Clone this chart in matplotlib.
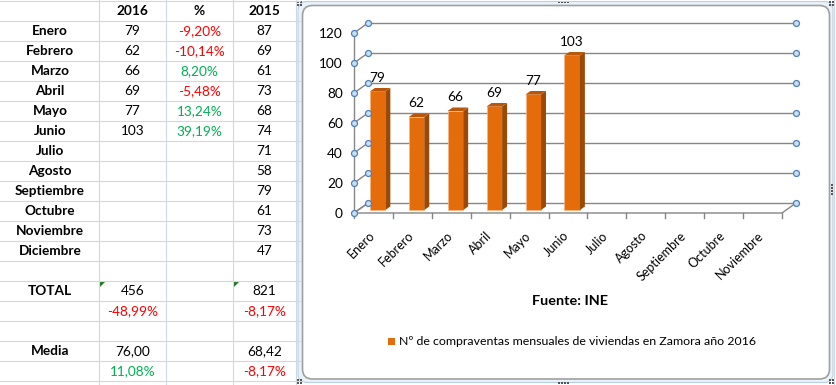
import matplotlib.pyplot as plt
from matplotlib.patches import FancyBboxPatch, Polygon, Rectangle

plt.rcParams['font.family'] = ['Lato', 'DejaVu Sans']

# data read from the sheet
months = ["Enero", "Febrero", "Marzo", "Abril", "Mayo", "Junio", "Julio",
          "Agosto", "Septiembre", "Octubre", "Noviembre", "Diciembre"]
sales_2016 = [79, 62, 66, 69, 77, 103]
pct_change = ["-9,20%", "-10,14%", "8,20%", "-5,48%", "13,24%", "39,19%"]
sales_2015 = [87, 69, 61, 73, 68, 74, 71, 58, 79, 61, 73, 47]
total_row = ["456", "821"]
total_pct = ["-48,99%", "-8,17%"]
mean_row = ["76,00", "68,42"]
mean_pct = ["11,08%", "-8,17%"]
chart_months = months[:11]
y_ticks = [0, 20, 40, 60, 80, 100, 120]
source = "Fuente: INE"
legend_label = "Nº de compraventas mensuales de viviendas en Zamora año 2016"

W, H = 836, 385
RED = '#FF0000'
GREEN = '#00B050'
GRID = '#D0D7E5'
ORANGE = '#E46C0A'


def pct_color(s):
    return RED if s.startswith('-') else GREEN


fig = plt.figure(figsize=(W / 100, H / 100), dpi=100)

# sheet layer, 1 unit = 1 pixel
bg = fig.add_axes([0, 0, 1, 1])
bg.set_xlim(0, W)
bg.set_ylim(H, 0)
bg.axis('off')

col_lines = [99, 166, 233, 296]
col_center = [50, 132.5, 199.5, 264.5]
for k in range(20):
    bg.plot([0, 300], [1 + 20 * k] * 2, color=GRID, lw=0.8)
for x in col_lines:
    bg.plot([x, x], [0, H], color=GRID, lw=0.8)
bg.plot([834, 834], [0, H], color=GRID, lw=0.8)


def row_y(r):
    return 11 + 20 * r


fs = 9.8
for c, s in zip(col_center[1:], ["2016", "%", "2015"]):
    bg.text(c, row_y(0), s, ha='center', va='center', fontsize=fs, fontweight='bold')
for i, m in enumerate(months):
    y = row_y(i + 1)
    bg.text(col_center[0], y, m, ha='center', va='center', fontsize=fs, fontweight='bold')
    bg.text(col_center[3], y, str(sales_2015[i]), ha='center', va='center', fontsize=fs)
    if i < len(sales_2016):
        bg.text(col_center[1], y, str(sales_2016[i]), ha='center', va='center', fontsize=fs)
        bg.text(col_center[2], y, pct_change[i], ha='center', va='center', fontsize=fs,
                color=pct_color(pct_change[i]))

bg.text(col_center[0], row_y(14), "TOTAL", ha='center', va='center', fontsize=fs, fontweight='bold')
bg.text(col_center[0], row_y(17), "Media", ha='center', va='center', fontsize=fs, fontweight='bold')
for c, tv, tp, mv, mp in zip([col_center[1], col_center[3]], total_row, total_pct, mean_row, mean_pct):
    bg.text(c, row_y(14), tv, ha='center', va='center', fontsize=fs)
    bg.text(c, row_y(15), tp, ha='center', va='center', fontsize=fs, color=pct_color(tp))
    bg.text(c, row_y(17), mv, ha='center', va='center', fontsize=fs)
    bg.text(c, row_y(18), mp, ha='center', va='center', fontsize=fs, color=pct_color(mp))

# little green error marks
for x in [100, 234]:
    bg.add_patch(Polygon([[x, 282], [x + 5, 282], [x, 287]], closed=True,
                         color='#1E7B1E', lw=0))

# chart frame
bg.add_patch(FancyBboxPatch((298, 1.5), 535, 381, boxstyle='round,pad=0,rounding_size=9',
                            fc='#EAF2FA', ec='#B9CFE4', lw=0.8))
bg.add_patch(FancyBboxPatch((302.5, 5.5), 527, 373.5, boxstyle='round,pad=0,rounding_size=10',
                            fc='white', ec='#A0A0A0', lw=1.2))
# resize handles
for (x, y) in [(299, 3), (831, 3), (299, 381), (831, 381)]:
    for dx in (0, 3):
        for dy in (0, 3):
            bg.add_patch(Rectangle((x - 2 + dx, y - 2 + dy), 1.5, 1.5, color='#555555', lw=0))
for k in range(4):
    bg.add_patch(Rectangle((558 + 3 * k, 1.5), 1.5, 1.5, color='#555555', lw=0))
    bg.add_patch(Rectangle((558 + 3 * k, 382), 1.5, 1.5, color='#555555', lw=0))
    bg.add_patch(Rectangle((831, 184 + 3 * k), 1.5, 1.5, color='#555555', lw=0))

# chart axes, front floor from x=354..782 px, value 0..120 -> y 213..33 px
ch = fig.add_axes([354 / W, 1 - 213 / H, 428 / W, 180 / H])
ch.set_xlim(0, len(chart_months))
ch.set_ylim(0, 120)
ch.patch.set_visible(False)
for sp in ch.spines.values():
    sp.set_visible(False)

n = len(chart_months)
DX = 14 / 428 * n   # depth offset in data units
DY = 10 / 180 * 120
LINE = '#868686'
cfs = 9.8

for v in y_ticks:
    ch.plot([0, DX], [v, v + DY], color=LINE, lw=1.0, clip_on=False, zorder=1)
    ch.plot([DX, n + DX], [v + DY, v + DY], color=LINE, lw=1.0, clip_on=False, zorder=1)
    ch.plot([0, DX, n + DX], [v, v + DY, v + DY], 'o', ms=4.3, mfc='#C9E0F2',
            mec='#4F81BD', mew=0.9, clip_on=False, zorder=6)
ch.plot([0, 0], [0, 120], color=LINE, lw=1.0, clip_on=False, zorder=2)
ch.plot([0, n, n + DX], [0, 0, DY], color=LINE, lw=1.0, clip_on=False, zorder=2)
ch.plot([0, DX], [0, DY], color=LINE, lw=1.0, clip_on=False, zorder=2)
for i in range(n + 1):
    ch.plot([i, i], [0, -3.3], color=LINE, lw=1.0, clip_on=False, zorder=2)

ch.set_yticks(y_ticks)
ch.set_yticklabels([str(v) for v in y_ticks], fontsize=cfs)
ch.tick_params(axis='y', length=0, pad=8)
ch.set_xticks([])

# 3d-looking bars
d0, t, bw = 0.3, 0.35, 0.4
base = d0 * DY
xc = [i + 0.5 + d0 * DX for i in range(len(sales_2016))]
ch.bar(xc, sales_2016, width=bw, bottom=base, color=ORANGE, edgecolor='#F7B584',
       lw=0.5, zorder=3, clip_on=False)
for x, v in zip(xc, sales_2016):
    xr, xl = x + bw / 2, x - bw / 2
    top = base + v
    ch.add_patch(Polygon([[xr, base], [xr + t * DX, base + t * DY],
                          [xr + t * DX, top + t * DY], [xr, top]],
                         closed=True, fc='#9A4A06', ec='none', zorder=3, clip_on=False))
    ch.add_patch(Polygon([[xl, top], [xr, top], [xr + t * DX, top + t * DY],
                          [xl + t * DX, top + t * DY]],
                         closed=True, fc='#B9560A', ec='none', zorder=3, clip_on=False))
    ch.text(x, top + t * DY + 6.8, str(v), ha='center', va='center', fontsize=cfs,
            zorder=7)

for i, m in enumerate(chart_months):
    ch.text(i + 0.5 + 0.09, -11, m, rotation=45, ha='right', va='top', fontsize=9.0,
            clip_on=False)

# source and legend
bg.text(570, 301, source, ha='center', va='center', fontsize=10.4, fontweight='bold')
bg.add_patch(Rectangle((388, 338), 7, 7, color=ORANGE, lw=0))
bg.text(399, 341.5, legend_label, ha='left', va='center', fontsize=8.9)

fig.savefig('out.png', dpi=100)
